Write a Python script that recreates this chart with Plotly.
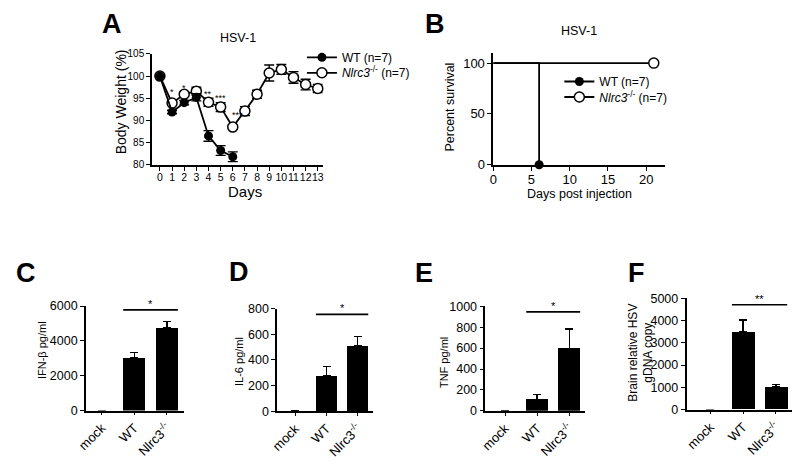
import plotly.graph_objects as go

W, H = 800, 464

# ---------------- data ----------------
# Panel A: body weight (%)
days_wt = [0, 1, 2, 3, 4, 5, 6]
weight_wt = [100, 91.9, 94.0, 95.2, 86.5, 83.2, 81.8]
err_wt = [0, 0.4, 0.5, 0.8, 1.2, 1.1, 1.1]
days_ko = [0, 1, 2, 3, 4, 5, 6, 7, 8, 9, 10, 11, 12, 13]
weight_ko = [100, 93.9, 95.9, 96.6, 94.1, 93.0, 88.5, 92.1, 95.9, 100.7, 101.5, 99.7, 98.1, 97.2]
err_ko = [0, 0.5, 0.5, 0.9, 0.9, 1.0, 0.5, 1.0, 0.9, 1.8, 1.1, 1.3, 1.2, 0.9]
sig_days = [1, 2, 4, 5, 6.35]
sig_y = [96.3, 97.4, 95.9, 95.0, 91.3]
sig_text = ["*", "*", "**", "***", "***"]

# Panel B: survival
surv_days_wt = [0, 6]
surv_pct_wt = [100, 0]
surv_days_ko = [0, 21]
surv_pct_ko = [100, 100]

# Panels C-F
groups = ["mock", "WT", "Nlrc3<sup>-/-</sup>"]
ifnb = [0, 3020, 4740]
ifnb_err = [0, 300, 370]
il6 = [0, 279, 511]
il6_err = [0, 68, 70]
tnf = [0, 111, 598]
tnf_err = [0, 43, 183]
hsv = [0, 3493, 1014]
hsv_err = [0, 536, 116]
bar_sig_y = [5780, 755, 947, 4709]
bar_sig_text = ["*", "*", "*", "**"]

FONT = "Liberation Sans, Arial, Helvetica, sans-serif"


def px_x(a, b):
    return [a / W, b / W]


def px_y(top, bottom):
    return [1 - bottom / H, 1 - top / H]


axis_style = dict(showline=True, linecolor="black", linewidth=1.6, ticks="outside",
                  ticklen=4, tickwidth=1.4, tickcolor="black", showgrid=False,
                  zeroline=False, fixedrange=True, layer="below traces")

fig = go.Figure()

# ---------- Panel A ----------
fig.add_trace(go.Scatter(
    x=days_ko, y=weight_ko, mode="lines+markers", name="<i>Nlrc3</i><sup>-/-</sup> (n=7)",
    line=dict(color="black", width=1.8),
    marker=dict(symbol="circle", size=10, color="white", line=dict(color="black", width=1.5)),
    error_y=dict(type="data", array=err_ko, color="black", thickness=1.4, width=5),
    xaxis="x", yaxis="y", legend="legend3", cliponaxis=False))
fig.add_trace(go.Scatter(
    x=days_wt, y=weight_wt, mode="lines+markers", name="WT (n=7)",
    line=dict(color="black", width=1.8),
    marker=dict(symbol="circle", size=9, color="black"),
    error_y=dict(type="data", array=err_wt, color="black", thickness=1.4, width=5),
    xaxis="x", yaxis="y", legend="legend", cliponaxis=False))

# ---------- Panel B ----------
fig.add_trace(go.Scatter(
    x=surv_days_wt, y=surv_pct_wt, mode="lines", line=dict(color="black", width=1.8, shape="hv"),
    showlegend=False, xaxis="x2", yaxis="y2", cliponaxis=False))
fig.add_trace(go.Scatter(
    x=surv_days_ko, y=surv_pct_ko, mode="lines", line=dict(color="black", width=1.8, shape="hv"),
    showlegend=False, xaxis="x2", yaxis="y2", cliponaxis=False))
fig.add_trace(go.Scatter(
    x=surv_days_wt[-1:], y=surv_pct_wt[-1:], mode="lines+markers", name="WT (n=7)",
    line=dict(color="black", width=1.8), marker=dict(size=9, color="black"),
    xaxis="x2", yaxis="y2", legend="legend2", cliponaxis=False))
fig.add_trace(go.Scatter(
    x=surv_days_ko[-1:], y=surv_pct_ko[-1:], mode="lines+markers",
    name="<i>Nlrc3</i><sup>-/-</sup> (n=7)",
    line=dict(color="black", width=1.8),
    marker=dict(size=10, color="white", line=dict(color="black", width=1.5)),
    xaxis="x2", yaxis="y2", legend="legend4", cliponaxis=False))

# ---------- Panels C-F ----------
bar_sets = [(ifnb, ifnb_err), (il6, il6_err), (tnf, tnf_err), (hsv, hsv_err)]
BAR_W = 0.68
for i, (vals, errs) in enumerate(bar_sets):
    k = i + 3
    fig.add_trace(go.Bar(
        x=groups, y=vals, width=BAR_W, marker=dict(color="black", line=dict(width=0)),
        error_y=dict(type="data", array=errs, arrayminus=[0] * len(errs), symmetric=False,
                     color="black", thickness=1.4, width=4),
        showlegend=False, xaxis=f"x{k}", yaxis=f"y{k}"))

# ---------- layout ----------
layout = dict(
    width=W, height=H, margin=dict(l=0, r=0, t=0, b=0), autosize=False,
    plot_bgcolor="white", paper_bgcolor="white",
    font=dict(family=FONT, color="black", size=12),
    bargap=0,
)

# A axes
layout["xaxis"] = dict(axis_style, domain=px_x(144, 317), range=[-0.65, 13.4], anchor="y",
                       tickvals=days_ko, tickangle=0, tickfont=dict(size=10.5),
                       ticklabelstandoff=-2)
layout["yaxis"] = dict(axis_style, domain=px_y(48.5, 163), range=[80, 105], anchor="x",
                       tickvals=[80, 85, 90, 95, 100, 105], tickfont=dict(size=10))
# B axes
layout["xaxis2"] = dict(axis_style, domain=px_x(490, 664), range=[0, 22.45], anchor="y2",
                        tickvals=[0, 5, 10, 15, 20], tickangle=0, tickfont=dict(size=13),
                        ticklabelstandoff=-2)
layout["yaxis2"] = dict(axis_style, domain=px_y(47.5, 163), range=[0, 110], anchor="x2",
                        tickvals=[0, 50, 100], tickfont=dict(size=13))

# bottom panels geometry (pixels)
bottom = [
    dict(x0=77, x1=176, top=309, bot=417, xr=[-0.485, 2.515], yr=[0, 6000], dt=2000),
    dict(x0=271, x1=368, top=311.7, bot=417.7, xr=[-0.58, 2.49], yr=[0, 800], dt=200),
    dict(x0=482, x1=583, top=309.3, bot=417.3, xr=[-0.615, 2.49], yr=[0, 1000], dt=200),
    dict(x0=686, x1=793, top=301, bot=416, xr=[-0.72, 2.49], yr=[0, 5000], dt=1000),
]
for i, g in enumerate(bottom):
    k = i + 3
    layout[f"xaxis{k}"] = dict(axis_style, domain=px_x(g["x0"], g["x1"]), range=g["xr"],
                               anchor=f"y{k}", type="category", tickangle=-45,
                               tickfont=dict(size=13), ticklen=3)
    layout[f"yaxis{k}"] = dict(axis_style, domain=px_y(g["top"], g["bot"]), range=g["yr"],
                               anchor=f"x{k}", dtick=g["dt"], tickfont=dict(size=12.5))


def legend_at(x_px, y_px):
    return dict(x=x_px / W, y=1 - y_px / H, xanchor="left", yanchor="middle",
                bgcolor="rgba(0,0,0,0)", font=dict(size=12, family=FONT, color="black"),
                tracegroupgap=0, itemwidth=30, borderwidth=0)


layout["legend"] = legend_at(296, 52)
layout["legend3"] = legend_at(296, 68)
layout["legend2"] = legend_at(557, 77)
layout["legend4"] = legend_at(557, 93)
fig.update_layout(**layout)

ann = []


def pa(text, x, y, size, angle=0, bold=False, **kw):
    t = f"<b>{text}</b>" if bold else text
    d = dict(text=t, x=x / W, y=1 - y / H, xref="paper", yref="paper", showarrow=False,
             xanchor="center", yanchor="middle", textangle=angle,
             font=dict(size=size, family=FONT, color="black"))
    d.update(kw)
    ann.append(d)


# panel letters
for letter, lx, ly in [("A", 103, 17.5), ("B", 431, 17.5), ("C", 16, 275),
                       ("D", 232, 274), ("E", 420, 275), ("F", 635, 275)]:
    pa(letter, lx, ly, 27, bold=True)

# titles
pa("HSV-1", 231, 32, 12.5)
pa("HSV-1", 577, 24.5, 12.5)
pa("Days", 238, 191, 15)
pa("Body Weight (%)", 112, 98, 14, angle=-90)
pa("Days post injection", 577, 193, 12.5)
pa("Percent survival", 446, 103, 12.5, angle=-90)
pa("IFN-β pg/ml", 32, 355, 11, angle=-90)
pa("IL-6 pg/ml", 232, 366, 11, angle=-90)
pa("TNF pg/ml", 440, 367, 11, angle=-90)
pa("Brain relative HSV<br>gDNA copy", 640, 357, 12, angle=-90)

# significance stars on panel A
for d, yv, t in zip(sig_days, sig_y, sig_text):
    ann.append(dict(text=t, x=d, y=yv, xref="x", yref="y", showarrow=False,
                    font=dict(size=9, family=FONT, color="black")))

# significance brackets on bar panels
shapes = []
for i, (yv, t) in enumerate(zip(bar_sig_y, bar_sig_text)):
    k = i + 3
    shapes.append(dict(type="line", xref=f"x{k}", yref=f"y{k}", x0=1 - BAR_W / 2,
                       x1=2 + BAR_W / 2, y0=yv, y1=yv, line=dict(color="black", width=1.6)))
    ann.append(dict(text=t, x=1.5, y=yv, xref=f"x{k}", yref=f"y{k}", showarrow=False,
                    yanchor="bottom", yshift=-2, font=dict(size=11, family=FONT, color="black")))

fig.update_layout(annotations=ann, shapes=shapes)
fig.write_html("out.html", config={"displayModeBar": False},
               post_script="document.body.style.margin='0';document.body.style.overflow='hidden';")
